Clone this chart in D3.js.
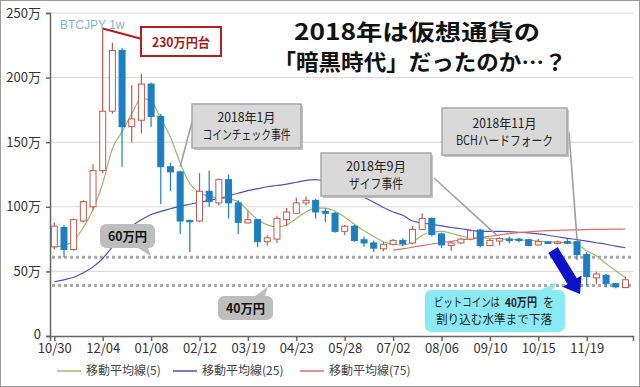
<!DOCTYPE html>
<html>
<head>
<meta charset="utf-8">
<script src="https://cdn.jsdelivr.net/npm/d3@7"></script>
<style>
  body { margin: 0; background: #fff; }
  svg { display: block; font-family: "Noto Sans CJK JP", "Noto Sans", sans-serif; }
</style>
</head>
<body>
<div id="chart"></div>
<script>
// weekly BTCJPY candles, values in 万円
const weeks = [
  "2017-10-30","2017-11-06","2017-11-13","2017-11-20","2017-11-27","2017-12-04","2017-12-11","2017-12-18","2017-12-25",
  "2018-01-01","2018-01-08","2018-01-15","2018-01-22","2018-01-29","2018-02-05","2018-02-12","2018-02-19","2018-02-26",
  "2018-03-05","2018-03-12","2018-03-19","2018-03-26","2018-04-02","2018-04-09","2018-04-16","2018-04-23","2018-04-30",
  "2018-05-07","2018-05-14","2018-05-21","2018-05-28","2018-06-04","2018-06-11","2018-06-18","2018-06-25","2018-07-02",
  "2018-07-09","2018-07-16","2018-07-23","2018-07-30","2018-08-06","2018-08-13","2018-08-20","2018-08-27","2018-09-03",
  "2018-09-10","2018-09-17","2018-09-24","2018-10-01","2018-10-08","2018-10-15","2018-10-22","2018-10-29","2018-11-05",
  "2018-11-12","2018-11-19","2018-11-26","2018-12-03","2018-12-10","2018-12-17"
];
const openVals  = [69,84,67,89,100,128,174,221,162,167, 195,170,131,127,89.5,89,112,103,121,103, 87.5,90,73,75,90,95,103,105,96.5,95, 81,85,74.5,72,67.5,71,74,72,82.5,91, 79,70,72,75,82,70,73.5,75,75,74.5, 70.5,72.8,72,73,73,63,45,47,40.5,37.5];
const highVals  = [88,86,91,105,133,238,227,223,194,203, 196,172,134,128,90,126,128,122,125,105, 97,90.5,78,93,99,107,108,106,99,96, 86,86,77,74,73,75,75.5,85,95,92, 80,73,76,82.5,83,75,76.5,77,76,75, 75,73.5,74,75,74,65,50,48,41,46];
const lowVals   = [67,61,66,88,97,126,172,131,150,157, 162,102,112,79,65,88,100,101,91,79, 87,69,70,72,85,95,101,91,88,80, 78,73,69,65,65.5,70,69.5,71,82,77, 68,66,71,74,68.5,69.5,70,72,72.5,69.5, 70,71.5,71,71,59,39,40,37.5,37,37];
const closeVals = [85,67,90,104,128,174,221,162,168,195, 170,131,127,89,88.5,112,104,121,103,88, 90,73,76,91,96,103,105,96,95,81, 85,74,72,68,71,74,71.5,82.5,91,78.5, 70.5,72,75,81.5,70,74,75.5,74,74,70, 73,72,72.8,72,63,46,48,40.5,38,43.5];

// moving averages as drawn (null = not shown)
const ma5 = [69,70,74,84,98,118,145,158,172,184, 182,168,154,134,118,111,108,107,106,104, 97,90,86,84.5,86,91,96,99,99,96.5, 92,86.5,81.5,77,73,71,70.5,72.5,78,80.5, 81,79.5,77.5,76,76,75.5,75,75,74.5,74, 73.5,73,72.5,72.5,71,66,62,56,50.5,45];
const ma25 = [42,43.5,45.5,49,53.5,60,69,78,85,90, 94,96.5,98.5,100.5,102,103.5,105,106.5,108.5,110.5, 112.5,114,115.5,116.5,117.5,119,120.5,121,119.5,117, 114.5,111.5,107.5,103.5,99.5,96,93.5,89,87.5,86.3, 85.2,84,83,81.8,81,81,81,80.8,80.3,79.8, 79,78,76.8,75.6,74.6,73.4,72.2,71,69.5,68.3];
const ma75 = [null,null,null,null,null,null,null,null,null,null, null,null,null,null,null,null,null,null,null,null, null,null,null,null,null,null,null,null,null,null, null,null,null,null,null,66.5,67.5,68.7,70,71.2, 72.3,73.3,74.3,75.2,76.2,77.2,78.2,79.2,80,80.6, 81.1,81.5,81.8,82,82.2,82.4,82.5,82.6,82.7,82.8];

const yTicks = [0, 50, 100, 150, 200, 250];
const xTickDates = ["2017-10-30","2017-12-04","2018-01-08","2018-02-12","2018-03-19","2018-04-23","2018-05-28","2018-07-02","2018-08-06","2018-09-10","2018-10-15","2018-11-19"];
const legendLabels = ["移動平均線(5)", "移動平均線(25)", "移動平均線(75)"];
const maColors = ["#9cb86a", "#5050b8", "#e06a6a"];
const guideLevels = [61, 39];

const W = 640, H = 387;
const parse = d3.utcParse("%Y-%m-%d");
const data = weeks.map((w, i) => ({
  date: parse(w), o: openVals[i], h: highVals[i], l: lowVals[i], c: closeVals[i],
  m5: ma5[i], m25: ma25[i], m75: ma75[i]
}));

const svg = d3.select("#chart").append("svg")
  .attr("width", W).attr("height", H);

svg.append("rect").attr("x", 0.5).attr("y", 0.5)
  .attr("width", W - 1).attr("height", H - 1)
  .attr("fill", "#fff").attr("stroke", "#9a9a9a");

// scales: first candle at 54.3, 11/19 at 586.7
const plotL = 50, plotR = 633;
const x = d3.scaleUtc()
  .domain([parse("2017-10-30"), parse("2018-11-19")])
  .range([54.3, 586.7]);
x.domain([x.invert(plotL), x.invert(plotR)]).range([plotL, plotR]);

const y = d3.scaleLinear().domain([0, 250]).range([336, 13]);

// grid
svg.append("g")
  .selectAll("line")
  .data(yTicks.filter(v => v > 0))
  .join("line")
    .attr("x1", plotL).attr("x2", plotR)
    .attr("y1", d => y(d)).attr("y2", d => y(d))
    .attr("stroke", "#d6d6d6");

// dotted guide levels
svg.append("g")
  .selectAll("line")
  .data(guideLevels)
  .join("line")
    .attr("x1", plotL + 2).attr("x2", plotR)
    .attr("y1", d => y(d)).attr("y2", d => y(d))
    .attr("stroke", "#a8a8a8")
    .attr("stroke-width", 3)
    .attr("stroke-dasharray", "3,3");

// moving averages
const maKeys = ["m5", "m25", "m75"];
maKeys.forEach((k, i) => {
  const line = d3.line()
    .defined(d => d[k] != null)
    .x(d => x(d.date))
    .y(d => y(d[k]))
    .curve(d3.curveMonotoneX);
  svg.append("path")
    .datum(data)
    .attr("fill", "none")
    .attr("stroke", maColors[i])
    .attr("stroke-width", 1.2)
    .attr("d", line);
});

// candles
const upCol = "#c4574f", downCol = "#1d7fc2";
const candles = svg.append("g").selectAll("g")
  .data(data)
  .join("g");

candles.append("line")
  .attr("x1", d => x(d.date)).attr("x2", d => x(d.date))
  .attr("y1", d => y(d.h)).attr("y2", d => y(d.l))
  .attr("stroke", d => d.c >= d.o ? upCol : downCol)
  .attr("stroke-width", 1.2);

candles.append("rect")
  .attr("x", d => x(d.date) - 3)
  .attr("width", 6)
  .attr("y", d => y(Math.max(d.o, d.c)))
  .attr("height", d => Math.max(1.5, Math.abs(y(d.o) - y(d.c))))
  .attr("fill", d => d.c >= d.o ? "#fff" : downCol)
  .attr("stroke", d => d.c >= d.o ? upCol : downCol)
  .attr("stroke-width", 1);

// axes
const yAxisG = svg.append("g")
  .attr("transform", `translate(${plotL},0)`)
  .call(d3.axisLeft(y).tickValues(yTicks).tickSize(4).tickPadding(5)
    .tickFormat(d => d === 0 ? "0" : d + "万"));
yAxisG.selectAll("path, line").attr("stroke", "#666").attr("stroke-width", 1.5);
yAxisG.selectAll("text").attr("fill", "#333").attr("font-size", "13px")
  .attr("font-family", "'Noto Sans CJK JP', sans-serif");
yAxisG.selectAll(".tick").filter(d => d === 0).select("text").attr("dy", "0.2em");

const xAxisG = svg.append("g")
  .attr("transform", `translate(0,${y(0)})`)
  .call(d3.axisBottom(x).tickValues(xTickDates.map(parse)).tickSize(5).tickPadding(3)
    .tickFormat(d3.utcFormat("%m/%d")));
xAxisG.selectAll("path, line").attr("stroke", "#666").attr("stroke-width", 1.5);
xAxisG.selectAll("text").attr("fill", "#333").attr("font-size", "13px")
  .attr("font-family", "'Noto Sans CJK JP', sans-serif");

// legend
const legendX = [57, 173, 300];
const legend = svg.append("g").selectAll("g")
  .data(legendLabels)
  .join("g")
    .attr("transform", (d, i) => `translate(${legendX[i]},371)`);
legend.append("line")
  .attr("x1", 0).attr("x2", 24)
  .attr("stroke", (d, i) => maColors[i]).attr("stroke-width", 1.5);
legend.append("text")
  .attr("x", 29).attr("dy", "0.36em")
  .attr("font-size", "12px").attr("fill", "#444")
  .text(d => d);

// ---- annotations ----
svg.append("text")
  .attr("x", 60).attr("y", 29)
  .attr("font-size", "12px").attr("fill", "#86b4d2")
  .attr("font-family", "'Liberation Sans', Arial, sans-serif")
  .text("BTCJPY 1w");

// 230万円台 callout
const peak = data[5];
svg.append("line")
  .attr("x1", x(peak.date)).attr("y1", y(peak.h))
  .attr("x2", 142).attr("y2", 39)
  .attr("stroke", "#b0201e").attr("stroke-width", 2);
svg.append("rect")
  .attr("x", 141).attr("y", 27).attr("width", 80).attr("height", 29)
  .attr("fill", "#fff").attr("stroke", "#b0201e").attr("stroke-width", 2);
svg.append("text")
  .attr("x", 181).attr("y", 46.5).attr("text-anchor", "middle")
  .attr("font-size", "13px").attr("font-weight", "bold").attr("fill", "#a81c1c")
  .attr("textLength", 58).attr("lengthAdjust", "spacingAndGlyphs")
  .text("230万円台");

// title
const title = svg.append("g").attr("font-weight", "bold").attr("fill", "#111");
title.append("text")
  .attr("x", 417).attr("y", 40).attr("text-anchor", "middle")
  .attr("font-size", "22px")
  .attr("textLength", 246).attr("lengthAdjust", "spacingAndGlyphs")
  .text("2018年は仮想通貨の");
title.append("text")
  .attr("x", 420).attr("y", 70).attr("text-anchor", "middle")
  .attr("font-size", "22px")
  .attr("textLength", 293).attr("lengthAdjust", "spacingAndGlyphs")
  .text("「暗黒時代」だったのか…？");

// gray event boxes with pointer lines
function eventBox(bx, by, bw, bh, lines, widths, from, to) {
  svg.append("line")
    .attr("x1", from[0]).attr("y1", from[1])
    .attr("x2", to[0]).attr("y2", to[1])
    .attr("stroke", "#a0a0a0").attr("stroke-width", 1.6);
  svg.append("rect")
    .attr("x", bx + 2).attr("y", by + 2).attr("width", bw).attr("height", bh)
    .attr("fill", "#c4c4c4");
  svg.append("rect")
    .attr("x", bx).attr("y", by).attr("width", bw).attr("height", bh)
    .attr("fill", "#d9d9d9").attr("stroke", "#a6a6a6").attr("stroke-width", 1.5);
  lines.forEach((t, i) => {
    svg.append("text")
      .attr("x", bx + bw / 2).attr("y", by + bh / 2 - 4 + i * 17)
      .attr("text-anchor", "middle")
      .attr("font-size", "13px").attr("fill", "#222")
      .attr("textLength", widths[i]).attr("lengthAdjust", "spacingAndGlyphs")
      .text(t);
  });
}
eventBox(192, 104, 109, 44, ["2018年1月", "コインチェック事件"], [58, 88],
  [x(data[13].date), y(data[13].h) - 4], [192, 122]);
eventBox(321, 153, 110, 43, ["2018年9月", "ザイフ事件"], [60, 54],
  [434, 178], [x(data[46].date) - 3, y(data[46].h) - 2]);
eventBox(442, 108, 125, 47, ["2018年11月", "BCHハードフォーク"], [64, 97],
  [569, 132], [x(data[54].date), y(data[54].h) - 1]);

// gray speech bubbles for price levels
function bubble(bx, by, bw, bh, tail, label) {
  const path = d3.path();
  const r = 6;
  path.moveTo(bx + r, by);
  if (tail.side === "top") {
    path.lineTo(tail.a, by); path.lineTo(tail.tip[0], tail.tip[1]); path.lineTo(tail.b, by);
  }
  path.lineTo(bx + bw - r, by);
  path.arcTo(bx + bw, by, bx + bw, by + r, r);
  path.lineTo(bx + bw, by + bh - r);
  path.arcTo(bx + bw, by + bh, bx + bw - r, by + bh, r);
  if (tail.side === "bottom") {
    path.lineTo(tail.b, by + bh); path.lineTo(tail.tip[0], tail.tip[1]); path.lineTo(tail.a, by + bh);
  }
  path.lineTo(bx + r, by + bh);
  path.arcTo(bx, by + bh, bx, by + bh - r, r);
  path.lineTo(bx, by + r);
  path.arcTo(bx, by, bx + r, by, r);
  path.closePath();
  svg.append("path").attr("d", path.toString()).attr("fill", tail.fill || "#bdbdbd");
  if (label) {
    svg.append("text")
      .attr("x", bx + bw / 2).attr("y", by + bh / 2 + 4.5)
      .attr("text-anchor", "middle")
      .attr("font-size", "13px").attr("font-weight", "bold").attr("fill", "#111")
      .attr("textLength", 39).attr("lengthAdjust", "spacingAndGlyphs")
      .text(label);
  }
}
bubble(100, 224, 55, 24, { side: "bottom", a: 138, b: 148, tip: [151, y(guideLevels[0]) - 1] }, "60万円");
bubble(218, 296, 55, 24, { side: "top", a: 255, b: 265, tip: [268, y(guideLevels[1]) + 1] }, "40万円");

// cyan note bubble
bubble(425, 290, 140, 42, { side: "top", a: 540, b: 552, tip: [557, y(guideLevels[1]) - 3], fill: "#8aeaf4" }, null);
const noteParts = [
  { t: "ビットコインは", x: 434, w: 66, bold: false },
  { t: "40万円", x: 505, w: 32, bold: true },
  { t: "を", x: 543, w: 11, bold: false }
];
noteParts.forEach(p => {
  svg.append("text")
    .attr("x", p.x).attr("y", 307)
    .attr("font-size", "12px").attr("fill", "#222")
    .attr("font-weight", p.bold ? "bold" : "normal")
    .attr("textLength", p.w).attr("lengthAdjust", "spacingAndGlyphs")
    .text(p.t);
});
svg.append("text")
  .attr("x", 494).attr("y", 324).attr("text-anchor", "middle")
  .attr("font-size", "12px").attr("fill", "#222")
  .attr("textLength", 116).attr("lengthAdjust", "spacingAndGlyphs")
  .text("割り込む水準まで下落");

// blue arrow
(function arrow(sx, sy, tx, ty) {
  const dx = tx - sx, dy = ty - sy, len = Math.hypot(dx, dy);
  const ux = dx / len, uy = dy / len, px = -uy, py = ux;
  const sw = 5.5, hw = 11, hl = 15;
  const bx = tx - ux * hl, by = ty - uy * hl;
  const pts = [
    [sx + px * sw, sy + py * sw], [bx + px * sw, by + py * sw], [bx + px * hw, by + py * hw],
    [tx, ty], [bx - px * hw, by - py * hw], [bx - px * sw, by - py * sw], [sx - px * sw, sy - py * sw]
  ];
  svg.append("polygon").attr("points", pts.map(p => p.join(",")).join(" "))
    .attr("fill", "#0c12c8");
})(553, 250, 580, 294);
</script>
</body>
</html>
